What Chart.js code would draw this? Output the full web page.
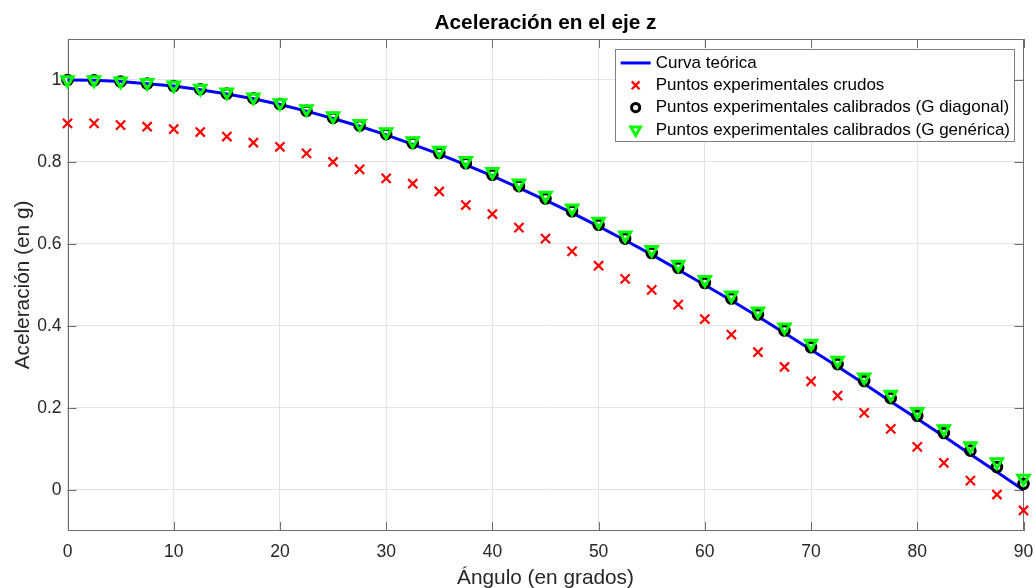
<!DOCTYPE html>
<html>
<head>
<meta charset="utf-8">
<script src="https://cdn.jsdelivr.net/npm/chart.js@4"></script>
<style>
  html, body { margin: 0; padding: 0; background: #fff; }
  #wrap { width: 1035px; height: 588px; }
</style>
</head>
<body>
<div id="wrap"><canvas id="accelChart"></canvas></div>
<script>
const angles = [0, 2.5, 5, 7.5, 10, 12.5, 15, 17.5, 20, 22.5, 25, 27.5, 30, 32.5, 35, 37.5, 40, 42.5, 45,
  47.5, 50, 52.5, 55, 57.5, 60, 62.5, 65, 67.5, 70, 72.5, 75, 77.5, 80, 82.5, 85, 87.5, 90];

const theoretical = [1.000, 0.999, 0.996, 0.991, 0.985, 0.976, 0.966, 0.954, 0.940, 0.924, 0.906, 0.887, 0.866,
  0.843, 0.819, 0.793, 0.766, 0.737, 0.707, 0.676, 0.643, 0.609, 0.574, 0.537, 0.500, 0.462, 0.423, 0.383,
  0.342, 0.301, 0.259, 0.216, 0.174, 0.131, 0.087, 0.044, 0.000];

const rawPoints = [0.894, 0.894, 0.890, 0.886, 0.880, 0.873, 0.862, 0.847, 0.837, 0.821, 0.800, 0.782, 0.760,
  0.747, 0.728, 0.695, 0.673, 0.640, 0.613, 0.582, 0.547, 0.515, 0.488, 0.452, 0.417, 0.379, 0.336, 0.300,
  0.265, 0.230, 0.188, 0.149, 0.105, 0.066, 0.023, -0.011, -0.050];

const calibDiagonal = [1.000, 0.999, 0.996, 0.991, 0.985, 0.977, 0.967, 0.955, 0.941, 0.925, 0.908, 0.889, 0.868,
  0.846, 0.822, 0.797, 0.769, 0.741, 0.711, 0.680, 0.647, 0.613, 0.578, 0.542, 0.505, 0.467, 0.428, 0.389,
  0.348, 0.307, 0.266, 0.224, 0.181, 0.139, 0.096, 0.056, 0.015];

const calibGeneric = [1.000, 1.000, 0.997, 0.993, 0.987, 0.979, 0.970, 0.958, 0.944, 0.929, 0.912, 0.893, 0.873,
  0.851, 0.828, 0.803, 0.776, 0.748, 0.718, 0.687, 0.655, 0.621, 0.586, 0.550, 0.513, 0.475, 0.436, 0.397,
  0.357, 0.316, 0.275, 0.233, 0.191, 0.149, 0.107, 0.068, 0.028];

const xTicks = [0, 10, 20, 30, 40, 50, 60, 70, 80, 90];
const yTicks = [0, 0.2, 0.4, 0.6, 0.8, 1];

const seriesNames = [
  'Curva teórica',
  'Puntos experimentales crudos',
  'Puntos experimentales calibrados (G diagonal)',
  'Puntos experimentales calibrados (G genérica)'
];

const toXY = ys => angles.map((a, i) => ({ x: a, y: ys[i] }));
const fontFamily = '"Liberation Sans", Arial, sans-serif';
const inkColor = '#262626';
const axisColor = '#6e6e6e';

// matlab style box: lines on all four sides with ticks pointing inward
const boxPlugin = {
  id: 'matlabBox',
  beforeDatasetsDraw(chart) {
    const { ctx, chartArea: a, scales: { x, y } } = chart;
    const tl = 9;
    ctx.save();
    ctx.strokeStyle = axisColor;
    ctx.lineWidth = 1;
    ctx.beginPath();
    ctx.rect(Math.round(a.left) + 0.5, Math.round(a.top) + 0.5,
      Math.round(a.right - a.left) - 1, Math.round(a.bottom - a.top) - 1);
    xTicks.forEach(v => {
      const px = Math.round(x.getPixelForValue(v)) + 0.5;
      ctx.moveTo(px, a.bottom); ctx.lineTo(px, a.bottom - tl);
      ctx.moveTo(px, a.top); ctx.lineTo(px, a.top + tl);
    });
    yTicks.forEach(v => {
      const py = Math.round(y.getPixelForValue(v)) + 0.5;
      ctx.moveTo(a.left, py); ctx.lineTo(a.left + tl, py);
      ctx.moveTo(a.right, py); ctx.lineTo(a.right - tl, py);
    });
    ctx.stroke();
    ctx.restore();
  }
};

// legend drawn inside the plot, top right, like matlab's 'northeast'
const innerLegend = {
  id: 'innerLegend',
  afterDraw(chart) {
    const { ctx, chartArea: a } = chart;
    const rowH = 22.3;
    ctx.save();
    ctx.font = '17px ' + fontFamily;
    const textW = Math.max(...seriesNames.map(s => ctx.measureText(s).width));
    const w = 41 + textW + 4;
    const h = 14 + rowH * 3 + 11;
    const left = a.right - 9.5 - w;
    const top = a.top + 10;
    ctx.fillStyle = '#fff';
    ctx.fillRect(left, top, w, h);
    ctx.strokeStyle = '#808080';
    ctx.lineWidth = 1;
    ctx.strokeRect(Math.round(left) + 0.5, Math.round(top) + 0.5, Math.round(w), Math.round(h));

    chart.data.datasets.forEach((ds, i) => {
      const cy = top + 14 + i * rowH;
      const cx = left + 21;
      if (ds.showLine) {
        ctx.strokeStyle = ds.borderColor;
        ctx.lineWidth = ds.borderWidth;
        ctx.beginPath();
        ctx.moveTo(left + 6, cy);
        ctx.lineTo(left + 36, cy);
        ctx.stroke();
      } else {
        ctx.strokeStyle = ds.pointBorderColor;
        ctx.fillStyle = 'rgba(0,0,0,0)';
        ctx.lineWidth = ds.pointBorderWidth;
        Chart.helpers.drawPoint(ctx, {
          pointStyle: ds.pointStyle,
          radius: ds.pointRadius * 0.85,
          rotation: ds.pointRotation || 0,
          borderWidth: ds.pointBorderWidth
        }, cx, cy);
      }
      ctx.fillStyle = '#000';
      ctx.textBaseline = 'middle';
      ctx.textAlign = 'left';
      ctx.fillText(seriesNames[i], left + 41, cy);
    });
    ctx.restore();
  }
};

new Chart(document.getElementById('accelChart').getContext('2d'), {
  type: 'scatter',
  data: {
    datasets: [
      {
        label: seriesNames[0],
        data: toXY(theoretical),
        showLine: true,
        borderColor: '#0000ff',
        borderWidth: 3,
        pointRadius: 0,
        fill: false,
        order: 4
      },
      {
        label: seriesNames[1],
        data: toXY(rawPoints),
        showLine: false,
        pointStyle: 'crossRot',
        pointRadius: 6.5,
        pointBorderColor: '#ff0000',
        pointBorderWidth: 2.2,
        order: 3
      },
      {
        label: seriesNames[2],
        data: toXY(calibDiagonal),
        showLine: false,
        pointStyle: 'circle',
        pointRadius: 4.8,
        pointBackgroundColor: 'rgba(0,0,0,0)',
        pointBorderColor: '#000000',
        pointBorderWidth: 3,
        order: 2
      },
      {
        label: seriesNames[3],
        data: toXY(calibGeneric),
        showLine: false,
        pointStyle: 'triangle',
        pointRotation: 180,
        pointRadius: 6.5,
        pointBackgroundColor: 'rgba(0,0,0,0)',
        pointBorderColor: '#00ff00',
        pointBorderWidth: 3,
        order: 1
      }
    ]
  },
  options: {
    responsive: true,
    maintainAspectRatio: false,
    animation: false,
    clip: false,
    layout: { padding: { left: 0, right: 11.5, top: 0, bottom: 0 } },
    plugins: {
      legend: { display: false },
      tooltip: { enabled: false },
      title: {
        display: true,
        fullSize: false,
        text: 'Aceleración en el eje z',
        color: '#000',
        font: { family: fontFamily, size: 20.8, weight: 'bold', lineHeight: 1.2 },
        padding: { top: 10.5, bottom: 3.5 }
      }
    },
    scales: {
      x: {
        type: 'linear',
        min: 0,
        max: 90,
        afterBuildTicks: s => { s.ticks = xTicks.map(v => ({ value: v })); },
        afterFit: s => { s.height = 57; s.paddingLeft = 0; s.paddingRight = 0; },
        border: { display: false },
        grid: { color: '#e3e3e3', drawTicks: false },
        ticks: {
          color: inkColor,
          padding: 11,
          maxRotation: 0,
          font: { family: fontFamily, size: 17.5 }
        },
        title: {
          display: true,
          text: 'Ángulo (en grados)',
          color: inkColor,
          font: { family: fontFamily, size: 20.8, lineHeight: 1.2 },
          padding: { top: 0, bottom: -2.5 }
        }
      },
      y: {
        type: 'linear',
        min: -0.1,
        max: 1.1,
        afterBuildTicks: s => { s.ticks = yTicks.map(v => ({ value: v })); },
        afterFit: s => { s.width = 67.5; s.paddingTop = 0; s.paddingBottom = 0; },
        border: { display: false },
        grid: { color: '#e3e3e3', drawTicks: false },
        ticks: {
          color: inkColor,
          padding: 6,
          font: { family: fontFamily, size: 17.5 },
          callback: v => String(Math.round(v * 10) / 10)
        },
        title: {
          display: true,
          text: 'Aceleración (en g)',
          color: inkColor,
          font: { family: fontFamily, size: 20.8, lineHeight: 1.2 },
          padding: { top: 10.5, bottom: 0 }
        }
      }
    }
  },
  plugins: [boxPlugin, innerLegend]
});
</script>
</body>
</html>
